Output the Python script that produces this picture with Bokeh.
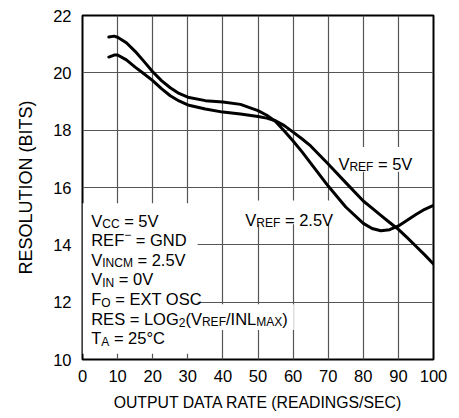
from bokeh.plotting import figure
from bokeh.models import Label, BoxAnnotation, FixedTicker, Range1d
from bokeh.embed import file_html
from bokeh.resources import INLINE

# ---- data ----
rate = [7.5, 9, 10, 12.5, 15, 17.5, 20, 22.5, 25, 27.5, 30, 35, 40, 45, 50, 52.5,
        55, 57.5, 60, 62.5, 65, 70, 75, 80, 82.5, 85, 87.5, 90, 92.5, 95, 97.5, 100]
res_upper_start = [21.25, 21.28, 21.24, 21.05, 20.75, 20.40, 20.04, 19.73, 19.48, 19.28,
                   19.15, 19.03, 18.98, 18.90, 18.68, 18.52, 18.30, 17.97, 17.62, 17.25,
                   16.85, 16.05, 15.32, 14.75, 14.57, 14.49, 14.53, 14.66, 14.86, 15.06,
                   15.24, 15.38]
res_lower_start = [20.55, 20.62, 20.62, 20.45, 20.20, 19.97, 19.73, 19.45, 19.20, 19.02,
                   18.88, 18.74, 18.63, 18.56, 18.48, 18.42, 18.33, 18.16, 17.93, 17.70,
                   17.45, 16.82, 16.17, 15.53, 15.28, 15.03, 14.78, 14.54, 14.25, 13.95,
                   13.65, 13.33]
x_ticks = [0, 10, 20, 30, 40, 50, 60, 70, 80, 90, 100]
y_ticks = [10, 12, 14, 16, 18, 20, 22]

FONT = "Liberation Sans"
MAIN = 16.5
SUB = 12.0

p = figure(width=448, height=413, output_backend="svg", toolbar_location=None,
           x_range=Range1d(0, 100), y_range=Range1d(10, 22),
           min_border_left=82, min_border_right=15, min_border_top=15, min_border_bottom=50)
p.background_fill_color = "white"
p.border_fill_color = "white"
p.outline_line_color = "black"
p.outline_line_width = 2

for ax in (p.xaxis[0], p.yaxis[0]):
    ax.axis_line_color = None
    ax.major_tick_line_color = None
    ax.minor_tick_line_color = None
    ax.major_tick_out = 0
    ax.major_tick_in = 0
    ax.major_label_text_font = FONT
    ax.major_label_text_font_size = f"{MAIN}px"
    ax.major_label_text_color = "black"
    ax.axis_label_text_font = FONT
    ax.axis_label_text_font_style = "normal"
    ax.axis_label_text_color = "black"

p.xaxis.axis_label_text_font_size = "15.8px"
p.yaxis.axis_label_text_font_size = "18px"
p.xaxis.ticker = FixedTicker(ticks=x_ticks)
p.yaxis.ticker = FixedTicker(ticks=y_ticks)
p.xaxis.axis_label = "OUTPUT DATA RATE (READINGS/SEC)"
p.yaxis.axis_label = "RESOLUTION (BITS)"
p.xaxis.major_label_standoff = 10
p.yaxis.major_label_standoff = 11
p.xaxis.axis_label_standoff = 9
p.yaxis.axis_label_standoff = 14

for g in (p.xgrid[0], p.ygrid[0]):
    g.grid_line_color = "#555555"
    g.grid_line_width = 1.2
    g.grid_line_alpha = 1.0
    g.level = "image"
p.xgrid.ticker = FixedTicker(ticks=x_ticks)
p.ygrid.ticker = FixedTicker(ticks=y_ticks)

# white backing boxes behind the annotation texts
for (l, r, b, t) in [(0, 32.8, 10.2, 15.45), (32.8, 60.2, 11.03, 11.93),
                     (71.8, 94.6, 16.55, 17.41), (45.3, 71.8, 14.72, 15.55)]:
    p.add_layout(BoxAnnotation(left=l, right=r, bottom=b, top=t, fill_color="white",
                               fill_alpha=1.0, line_color=None, level="underlay"))

p.line(rate, res_upper_start, line_color="black", line_width=3, line_join="round", line_cap="round")
p.line(rate, res_lower_start, line_color="black", line_width=3, line_join="round", line_cap="round")

# ---- rich labels built from segments (Arial/Liberation Sans advance widths) ----
W = {' ': 278, '=': 584, '.': 278, '(': 333, ')': 333, '/': 278, '°': 400, '−': 584,
     'A': 667, 'C': 722, 'D': 722, 'E': 667, 'F': 611, 'G': 778, 'I': 278, 'L': 556,
     'M': 833, 'N': 722, 'O': 778, 'R': 722, 'S': 667, 'T': 611, 'V': 667, 'X': 667}


def text_width(s, size):
    return sum(W.get(ch, 556) for ch in s) * size / 1000.0


def rich(x, y, segments, dy=0.0):
    off = 0.0
    for s, kind in segments:
        size = MAIN if kind == "m" else SUB
        yo = dy
        if kind == "s":
            yo = dy - 3.5
        elif kind == "u":
            yo = dy + 6
        stripped = s.lstrip(" ")
        off += text_width(s[:len(s) - len(stripped)], size)
        p.add_layout(Label(x=x, y=y, x_offset=off, y_offset=yo, text=stripped,
                           text_font=FONT, text_font_size=f"{size}px",
                           text_color="black", text_baseline="alphabetic",
                           text_align="left"))
        off += text_width(stripped, size)


conditions = [
    [("V", "m"), ("CC", "s"), (" = 5V", "m")],
    [("REF", "m"), ("−", "u"), (" = GND", "m")],
    [("V", "m"), ("INCM", "s"), (" = 2.5V", "m")],
    [("V", "m"), ("IN", "s"), (" = 0V", "m")],
    [("F", "m"), ("O", "s"), (" = EXT OSC", "m")],
    [("RES = LOG", "m"), ("2", "s"), ("(V", "m"), ("REF", "s"), ("/INL", "m"),
     ("MAX", "s"), (")", "m")],
    [("T", "m"), ("A", "s"), (" = 25°C", "m")],
]
for i, segs in enumerate(conditions):
    rich(2.48, 14.845, segs, dy=-19.6 * i)

rich(72.9, 16.83, [("V", "m"), ("REF", "s"), (" = 5V", "m")])
rich(46.4, 14.87, [("V", "m"), ("REF", "s"), (" = 2.5V", "m")])

open("out.html", "w").write(file_html(p, INLINE))
